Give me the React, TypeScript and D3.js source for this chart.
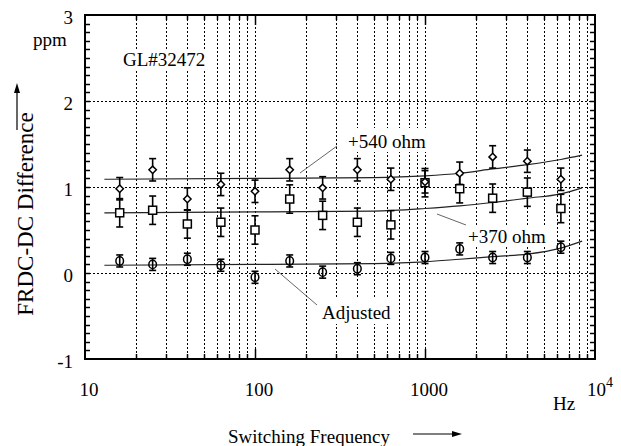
import React, { useEffect, useRef } from "react";
import * as d3 from "d3";

// switching frequencies (Hz)
const freqs = [16, 25, 40, 63, 100, 160, 250, 400, 630, 1000, 1600, 2500, 4000, 6300];

// measured FRDC-DC difference (ppm)
const ohm540 = [0.98, 1.2, 0.86, 1.03, 0.95, 1.2, 0.99, 1.2, 1.09, 1.06, 1.16, 1.35, 1.3, 1.09];
const ohm370 = [0.7, 0.73, 0.57, 0.59, 0.5, 0.86, 0.67, 0.59, 0.56, 1.05, 0.98, 0.87, 0.94, 0.75];
const adjusted = [0.14, 0.1, 0.16, 0.09, -0.05, 0.14, 0.01, 0.05, 0.17, 0.18, 0.28, 0.18, 0.18, 0.3];

// error bar half widths (ppm)
const err540 = 0.13;
const err370 = 0.165;
const errAdj = 0.07;

// fitted curves
const fitFreqs = [13, 100, 500, 1000, 1600, 2500, 4000, 6300, 8400];
const fit540 = [1.09, 1.1, 1.11, 1.13, 1.16, 1.21, 1.26, 1.32, 1.37];
const fit370 = [0.7, 0.71, 0.72, 0.75, 0.78, 0.82, 0.87, 0.92, 0.99];
const fitAdj = [0.09, 0.1, 0.11, 0.13, 0.16, 0.19, 0.22, 0.29, 0.37];

const yTickLabels = [3, 2, 1, 0, -1];
const xTickLabels = [10, 100, 1000];

const FONT = "Liberation Serif, Times New Roman, DejaVu Serif, serif";

const App = () => {
  const svgRef = useRef<SVGSVGElement>(null);

  useEffect(() => {
    const W = 621,
      H = 446;
    const left = 85,
      right = 595,
      top = 15,
      bottom = 359;

    d3.select(svgRef.current).selectAll("*").remove();

    const svg = d3
      .select(svgRef.current)
      .attr("width", W)
      .attr("height", H)
      .attr("font-family", FONT);

    const x = d3.scaleLog().domain([10, 1e4]).range([left, right]);
    const y = d3.scaleLinear().domain([-1, 3]).range([bottom, top]);

    svg.append("rect").attr("width", W).attr("height", H).attr("fill", "white");

    // dotted grid
    const xGrid = x.ticks().filter((d) => d > 10 && d < 1e4);
    svg
      .append("g")
      .selectAll("line")
      .data(xGrid)
      .join("line")
      .attr("x1", (d) => Math.round(x(d)) + 0.5)
      .attr("x2", (d) => Math.round(x(d)) + 0.5)
      .attr("y1", top)
      .attr("y2", bottom)
      .attr("stroke", "black")
      .attr("stroke-width", 1)
      .attr("stroke-dasharray", "2,2");

    svg
      .append("g")
      .selectAll("line")
      .data([0, 1, 2])
      .join("line")
      .attr("x1", left)
      .attr("x2", right)
      .attr("y1", (d) => Math.round(y(d)) + 0.5)
      .attr("y2", (d) => Math.round(y(d)) + 0.5)
      .attr("stroke", "black")
      .attr("stroke-width", 1)
      .attr("stroke-dasharray", "2,2");

    // white boxes behind the labels inside the plot
    const boxes = [
      [112, 49, 102, 22],
      [343, 128, 89, 24],
      [465, 227, 86, 19],
      [318, 297, 78, 27],
    ];
    svg
      .append("g")
      .selectAll("rect")
      .data(boxes)
      .join("rect")
      .attr("x", (d) => d[0])
      .attr("y", (d) => d[1])
      .attr("width", (d) => d[2])
      .attr("height", (d) => d[3])
      .attr("fill", "white");

    // fitted curves
    const line = d3
      .line<number>()
      .x((d, i) => x(fitFreqs[i]))
      .y((d) => y(d))
      .curve(d3.curveMonotoneX);

    [fit540, fit370, fitAdj].forEach((fit) => {
      svg
        .append("path")
        .datum(fit)
        .attr("fill", "none")
        .attr("stroke", "#222")
        .attr("stroke-width", 1.2)
        .attr("d", line);
    });

    // leader lines
    const leaders = [
      [300, 173, 337, 146],
      [437, 214, 466, 225],
      [275, 269, 317, 305],
    ];
    svg
      .append("g")
      .selectAll("line")
      .data(leaders)
      .join("line")
      .attr("x1", (d) => d[0])
      .attr("y1", (d) => d[1])
      .attr("x2", (d) => d[2])
      .attr("y2", (d) => d[3])
      .attr("stroke", "#666")
      .attr("stroke-width", 1);

    // error bars
    const drawErrors = (vals: number[], err: number) => {
      const g = svg.append("g").attr("stroke", "black").attr("stroke-width", 1.6);
      vals.forEach((v, i) => {
        const cx = x(freqs[i]);
        const y1 = y(v + err),
          y2 = y(v - err);
        g.append("line").attr("x1", cx).attr("x2", cx).attr("y1", y1).attr("y2", y2);
        g.append("line").attr("x1", cx - 3.5).attr("x2", cx + 3.5).attr("y1", y1).attr("y2", y1);
        g.append("line").attr("x1", cx - 3.5).attr("x2", cx + 3.5).attr("y1", y2).attr("y2", y2);
      });
    };
    drawErrors(ohm540, err540);
    drawErrors(ohm370, err370);
    drawErrors(adjusted, errAdj);

    // markers
    svg
      .append("g")
      .selectAll("rect")
      .data(ohm370)
      .join("rect")
      .attr("x", (d, i) => x(freqs[i]) - 4)
      .attr("y", (d) => y(d) - 4)
      .attr("width", 8)
      .attr("height", 8)
      .attr("fill", "white")
      .attr("stroke", "black")
      .attr("stroke-width", 1.5);

    svg
      .append("g")
      .selectAll("path")
      .data(ohm540)
      .join("path")
      .attr("transform", (d, i) => `translate(${x(freqs[i])},${y(d)})`)
      .attr("d", "M0,-3.7L3.7,0L0,3.7L-3.7,0Z")
      .attr("fill", "white")
      .attr("stroke", "black")
      .attr("stroke-width", 1.5);

    svg
      .append("g")
      .selectAll("ellipse")
      .data(adjusted)
      .join("ellipse")
      .attr("cx", (d, i) => x(freqs[i]))
      .attr("cy", (d) => y(d))
      .attr("rx", 3.8)
      .attr("ry", 4.2)
      .attr("fill", "none")
      .attr("stroke", "black")
      .attr("stroke-width", 1.5);

    // frame and ticks
    const ticks = svg.append("g").attr("stroke", "black").attr("stroke-width", 1.5);
    y.ticks(40)
      .filter((d) => d > -1 && d < 3)
      .forEach((d) => {
        const yy = Math.round(y(d)) + 0.5;
        ticks.append("line").attr("x1", left).attr("x2", left + 5).attr("y1", yy).attr("y2", yy);
        ticks.append("line").attr("x1", right - 5).attr("x2", right).attr("y1", yy).attr("y2", yy);
      });
    xGrid.forEach((d) => {
      const xx = Math.round(x(d)) + 0.5;
      const len = d === 100 || d === 1000 ? 10 : 5;
      ticks.append("line").attr("x1", xx).attr("x2", xx).attr("y1", top).attr("y2", top + len);
      ticks.append("line").attr("x1", xx).attr("x2", xx).attr("y1", bottom - len).attr("y2", bottom);
    });

    svg
      .append("rect")
      .attr("x", left)
      .attr("y", top)
      .attr("width", right - left)
      .attr("height", bottom - top)
      .attr("fill", "none")
      .attr("stroke", "black")
      .attr("stroke-width", 2);

    // tick labels
    svg
      .append("g")
      .selectAll("text")
      .data(yTickLabels)
      .join("text")
      .attr("x", 73)
      .attr("y", (d) => y(d) + 9)
      .attr("text-anchor", "end")
      .attr("font-family", FONT)
      .attr("font-size", 19)
      .text((d) => d);

    svg
      .append("g")
      .selectAll("text")
      .data(xTickLabels)
      .join("text")
      .attr("x", (d) => x(d) + 4)
      .attr("y", 396)
      .attr("text-anchor", "middle")
      .attr("font-family", FONT)
      .attr("font-size", 19)
      .text((d) => d);

    const pow = svg
      .append("text")
      .attr("x", 587)
      .attr("y", 396)
      .attr("font-family", FONT)
      .attr("font-size", 19);
    pow.append("tspan").text("10");
    pow.append("tspan").attr("dy", -9).attr("font-size", 14).text("4");

    const label = (tx: number, ty: number, s: string, size = 19) =>
      svg
        .append("text")
        .attr("x", tx)
        .attr("y", ty)
        .attr("font-family", FONT)
        .attr("font-size", size)
        .text(s);

    label(33, 46, "ppm");
    label(553, 410, "Hz");
    label(123, 66, "GL#32472");
    label(348, 148, "+540 ohm");
    label(468, 243, "+370 ohm");
    label(322, 319, "Adjusted");
    label(228, 443, "Switching Frequency");

    svg
      .append("text")
      .attr("transform", "translate(33,214) rotate(-90)")
      .attr("text-anchor", "middle")
      .attr("font-family", FONT)
      .attr("font-size", 23)
      .text("FRDC-DC Difference");

    // axis arrows
    svg.append("line").attr("x1", 17).attr("x2", 17).attr("y1", 130).attr("y2", 92).attr("stroke", "black").attr("stroke-width", 1.2);
    svg.append("path").attr("d", "M17,83L20,93L14,93Z").attr("fill", "black");
    svg.append("line").attr("x1", 413).attr("x2", 453).attr("y1", 434).attr("y2", 434).attr("stroke", "black").attr("stroke-width", 1.2);
    svg.append("path").attr("d", "M462,434L452,431L452,437Z").attr("fill", "black");
  }, []);

  return (
    <svg
      ref={svgRef}
      style={{ position: "absolute", left: 0, top: 0, display: "block" }}
    ></svg>
  );
};

export default App;
